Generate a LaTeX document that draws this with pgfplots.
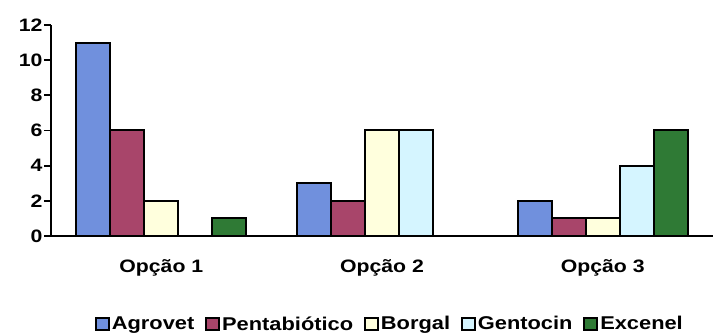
\documentclass[border=0pt]{standalone}
\usepackage{fontspec}
\setmainfont{Liberation Sans}[FakeStretch=1.18]
\usepackage{pgfplots}
\pgfplotsset{compat=1.18}
\definecolor{cAgro}{HTML}{7090DD}
\definecolor{cPenta}{HTML}{A8456A}
\definecolor{cBorg}{HTML}{FFFFDD}
\definecolor{cGento}{HTML}{D5F5FF}
\definecolor{cExc}{HTML}{2F7A35}
\pgfplotsset{
  sqleg/.style={legend image code/.code={\draw[##1,draw=black,line width=1.8pt] (0pt,-6pt) rectangle (13pt,6pt);}},
}
\begin{document}
\begin{tikzpicture}
\begin{axis}[
  name=ax,
  scale only axis,
  width=662pt, height=211pt,
  xmin=-0.5, xmax=2.5, ymin=0, ymax=12,
  ytick={0,2,...,12},
  axis x line*=bottom, axis y line*=left,
  axis line style={black, line width=2pt},
  tick style={black, line width=1.8pt},
  tick align=outside,
  major tick length=7pt,
  xtick={0,1,2},
  xticklabels={Opção 1,Opção 2,Opção 3},
  major x tick style={draw=none},
  extra x ticks={0.5,1.5},
  extra x tick labels={},
  extra x tick style={major x tick style={black, line width=1.8pt}},
  /pgf/number format/assume math mode=true,
  every tick label/.append style={font=\fontsize{18}{20}\selectfont\bfseries},
  xticklabel style={yshift=-13pt},
  yticklabel style={xshift=2pt},
  ybar=0pt, bar width=34pt,
  every axis plot/.append style={draw=black, line width=2pt},
  legend style={at={(0.512,-0.417)}, anchor=center, draw=none, legend columns=5,
    font=\fontsize{18.5}{20}\selectfont\bfseries,
    /tikz/every even column/.append style={column sep=9pt},
    inner sep=0pt},
  legend cell align=left,
]
\addplot[fill=cAgro, sqleg] coordinates {(0,11) (1,3) (2,2)};
\addplot[fill=cPenta, sqleg] coordinates {(0,6) (1,2) (2,1)};
\addplot[fill=cBorg, sqleg] coordinates {(0,2) (1,6) (2,1)};
\addplot[fill=cGento, sqleg] coordinates {(0,0) (1,6) (2,4)};
\addplot[fill=cExc, sqleg] coordinates {(0,1) (1,0) (2,6)};
\legend{Agrovet,Pentabiótico,Borgal,Gentocin,Excenel}
\end{axis}
\pgfresetboundingbox
\path ([xshift=-51pt,yshift=-100pt]ax.south west) rectangle ([xshift=14pt,yshift=25pt]ax.north east);
\end{tikzpicture}
\end{document}
